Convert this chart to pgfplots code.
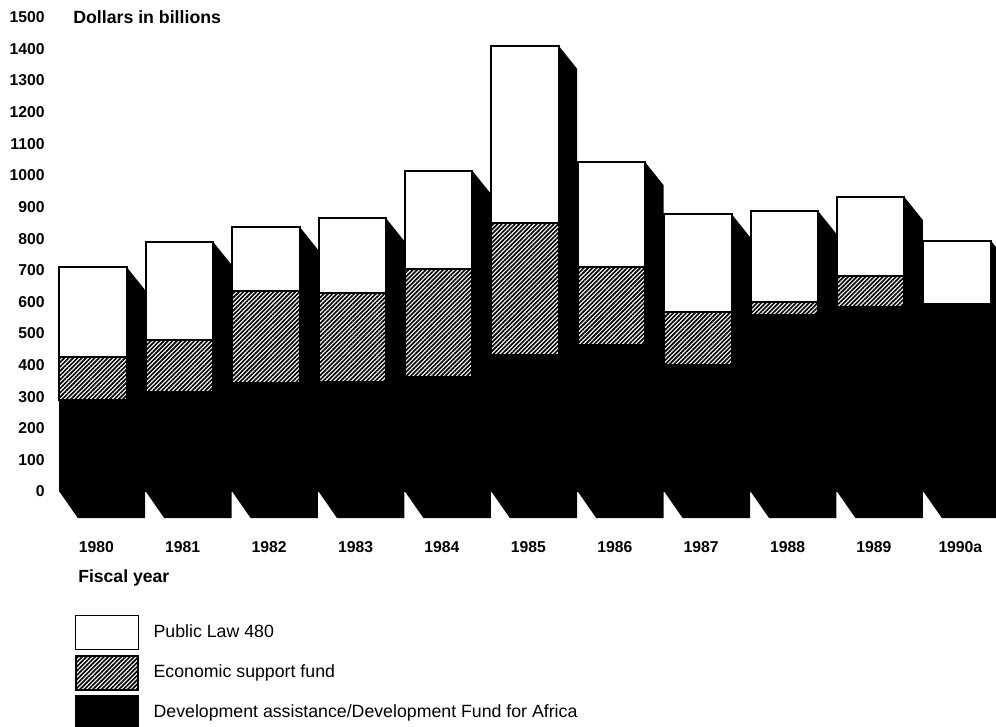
\documentclass[border=0pt]{standalone}
\usepackage{fontspec}
\setmainfont{Liberation Sans}
\usepackage{pgfplots}
\pgfplotsset{compat=1.18}
\usepackage{pgfplotstable}
\usetikzlibrary{patterns.meta}
\pgfplotstableread{
idx devel econ pl
0 290 136 284
1 315 164 311
2 343 291 204
3 345 283 237
4 362 343 310
5 432 418 560
6 464 247 331
7 400 168 310
8 558 42 288
9 585 98 249
10 593 0 201
}\aid
\tikzset{hatchfill/.style={preaction={fill=white},pattern={Lines[angle=45,distance=2.3pt,line width=1.25pt]},pattern color=black}}
\pgfplotsset{
  base/.style={scale only axis,width=709.5pt,height=388.5pt,
    xmin=-0.4977,xmax=10.451,ymin=-84,ymax=1555,clip=false},
  boxlegend/.style={legend image code/.code={\draw[line width=1pt,##1] (0pt,-12.75pt) rectangle (47pt,12.75pt);}},
}
\begin{document}
\begin{tikzpicture}
\path[use as bounding box] (-37.5pt,-156pt) rectangle (709.5pt,388.5pt);
\begin{axis}[base,hide axis]
\addplot[fill=black,draw=none] coordinates {(0.39,710)(0.604,637)(0.604,-84)(-0.176,-84)(-0.39,0)(-0.39,710)} -- cycle;
\addplot[fill=black,draw=none] coordinates {(1.39,790)(1.604,717)(1.604,-84)(0.824,-84)(0.61,0)(0.61,790)} -- cycle;
\addplot[fill=black,draw=none] coordinates {(2.39,838)(2.604,765)(2.604,-84)(1.824,-84)(1.61,0)(1.61,838)} -- cycle;
\addplot[fill=black,draw=none] coordinates {(3.39,865)(3.604,792)(3.604,-84)(2.824,-84)(2.61,0)(2.61,865)} -- cycle;
\addplot[fill=black,draw=none] coordinates {(4.39,1015)(4.604,942)(4.604,-84)(3.824,-84)(3.61,0)(3.61,1015)} -- cycle;
\addplot[fill=black,draw=none] coordinates {(5.39,1410)(5.604,1337)(5.604,-84)(4.824,-84)(4.61,0)(4.61,1410)} -- cycle;
\addplot[fill=black,draw=none] coordinates {(6.39,1042)(6.604,969)(6.604,-84)(5.824,-84)(5.61,0)(5.61,1042)} -- cycle;
\addplot[fill=black,draw=none] coordinates {(7.39,878)(7.604,805)(7.604,-84)(6.824,-84)(6.61,0)(6.61,878)} -- cycle;
\addplot[fill=black,draw=none] coordinates {(8.39,888)(8.604,815)(8.604,-84)(7.824,-84)(7.61,0)(7.61,888)} -- cycle;
\addplot[fill=black,draw=none] coordinates {(9.39,932)(9.604,859)(9.604,-84)(8.824,-84)(8.61,0)(8.61,932)} -- cycle;
\addplot[fill=black,draw=none] coordinates {(10.39,794)(10.604,721)(10.604,-84)(9.824,-84)(9.61,0)(9.61,794)} -- cycle;
\end{axis}
\begin{axis}[base,ybar stacked,bar width=0.78,
  axis line style={draw=none},tick style={draw=none},major tick length=0pt,
  xtick=data,
  xticklabels={1980,1981,1982,1983,1984,1985,1986,1987,1988,1989,1990a},
  ytick={0,100,...,1500},
  /pgf/number format/assume math mode=true,
  /pgf/number format/1000 sep={},
  ticklabel style={font=\bfseries\fontsize{11.8pt}{14pt}\selectfont},
  yticklabel style={anchor=east,xshift=-0.5pt},
  xticklabel style={anchor=center,yshift=-22pt,xshift=2.5pt},
  every axis title shift=0pt,
  title={Dollars in billions},
  title style={at={(axis description cs:0.0243,0.967)},anchor=west,inner sep=0pt,font=\bfseries\fontsize{13.3pt}{16pt}\selectfont},
  xlabel={Fiscal year},
  xlabel style={at={(axis description cs:0.0296,-0.1158)},anchor=west,inner sep=0pt,font=\bfseries\fontsize{13.2pt}{16pt}\selectfont},
  reverse legend,
  legend cell align=left,
  legend style={at={(axis description cs:0.0264,-0.187)},anchor=north west,draw=none,fill=none,inner sep=0pt,outer sep=0pt,
    font=\fontsize{13.3pt}{16pt}\selectfont,row sep=3.5pt,
    /tikz/every even column/.append style={column sep=0pt},
    nodes={inner sep=0pt,outer sep=0pt}},
]
\addplot[fill=black,draw=black,line width=1pt,boxlegend] table[x=idx,y=devel]{\aid};
\addlegendentry{\hspace{11pt}Development assistance/Development Fund for Africa}
\addplot[draw=black,line width=1.5pt,hatchfill,boxlegend] table[x=idx,y=econ]{\aid};
\addlegendentry{\hspace{11pt}Economic support fund}
\addplot[fill=white,draw=black,line width=1.5pt,boxlegend] table[x=idx,y=pl]{\aid};
\addlegendentry{\hspace{11pt}Public Law 480}
\end{axis}
\end{tikzpicture}
\end{document}
